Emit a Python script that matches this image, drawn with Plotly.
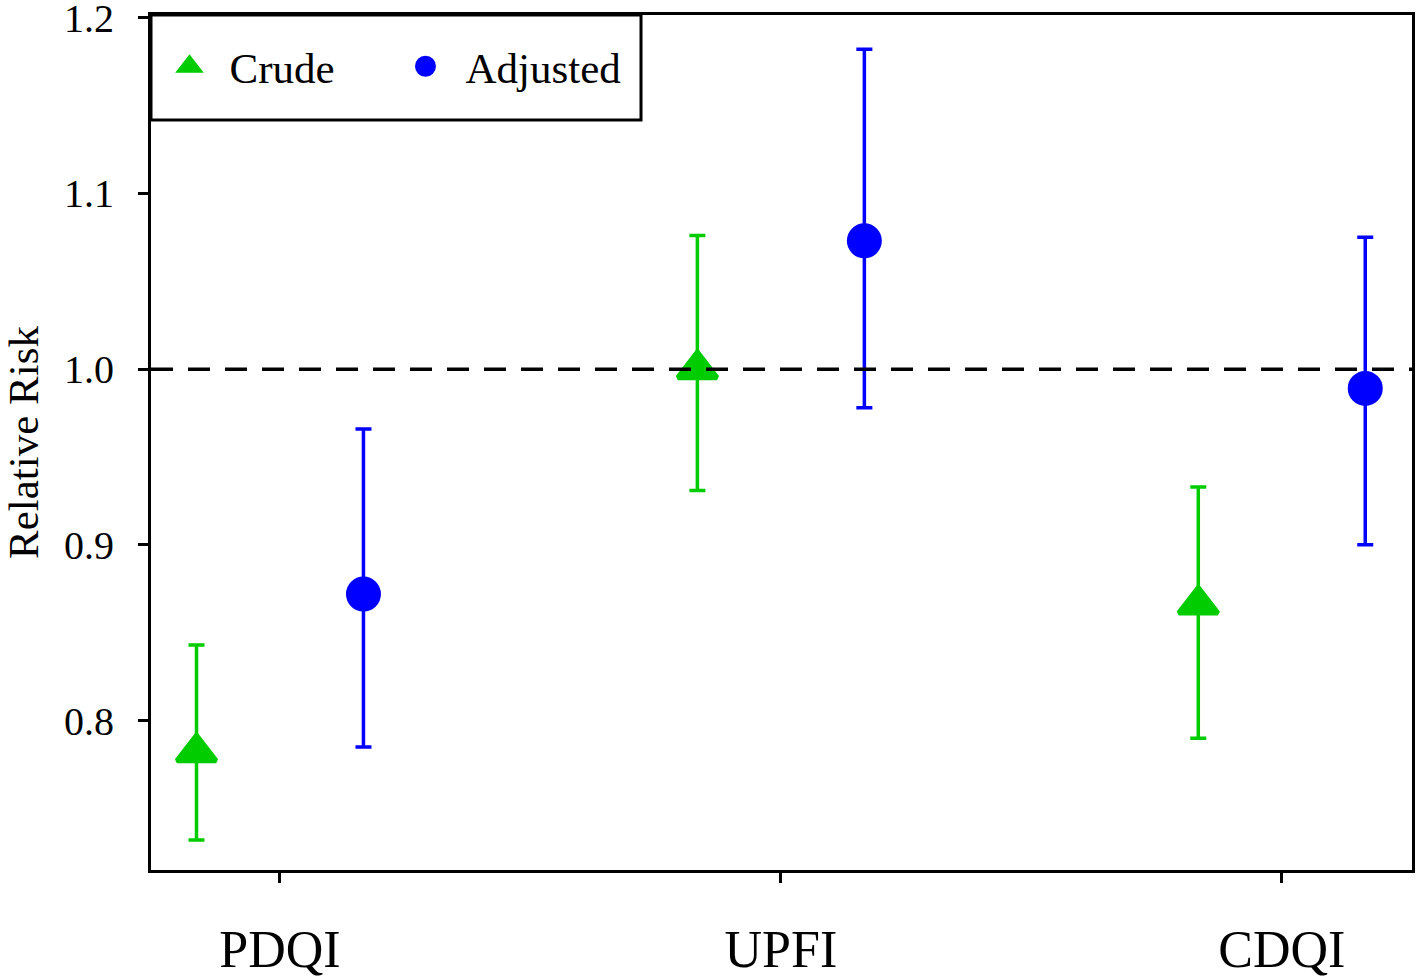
import plotly.graph_objects as go

categories = ["PDQI", "UPFI", "CDQI"]
crude_rr = [0.782, 1.000, 0.866]
crude_lo = [0.732, 0.931, 0.790]
crude_hi = [0.843, 1.076, 0.933]
adj_rr = [0.872, 1.073, 0.989]
adj_lo = [0.785, 0.978, 0.900]
adj_hi = [0.966, 1.182, 1.075]
y_ticks = [0.8, 0.9, 1.0, 1.1, 1.2]
reference_value = 1.0

GREEN = "#00CC00"
BLUE = "#0000FF"
FONT = "Liberation Serif, Times New Roman, serif"
offset = 1 / 6

idx = list(range(len(categories)))
x_crude = [i - offset for i in idx]
x_adj = [i + offset for i in idx]

fig = go.Figure()
fig.add_trace(go.Scatter(
    x=x_crude, y=crude_rr, mode="markers", name="Crude",
    marker=dict(symbol="triangle-up", size=34, color=GREEN, line=dict(color=GREEN, width=5)),
    error_y=dict(type="data", symmetric=False,
                 array=[h - v for h, v in zip(crude_hi, crude_rr)],
                 arrayminus=[v - l for v, l in zip(crude_rr, crude_lo)],
                 color=GREEN, thickness=3.5, width=8),
))
fig.add_trace(go.Scatter(
    x=x_adj, y=adj_rr, mode="markers", name="Adjusted",
    marker=dict(symbol="circle", size=30, color=BLUE, line=dict(color=BLUE, width=5)),
    error_y=dict(type="data", symmetric=False,
                 array=[h - v for h, v in zip(adj_hi, adj_rr)],
                 arrayminus=[v - l for v, l in zip(adj_rr, adj_lo)],
                 color=BLUE, thickness=3.5, width=8),
))

fig.add_hline(y=reference_value, line=dict(color="black", width=3.5, dash="22px,15px"), layer="above")

# legend box
fig.add_shape(type="rect", xref="paper", yref="paper",
              x0=0, x1=(641 - 151) / 1261, y0=(870 - 120) / 855, y1=1,
              line=dict(color="black", width=3), fillcolor="rgba(0,0,0,0)")

fig.update_layout(
    width=1418, height=980,
    margin=dict(l=151, r=6, t=15, b=110),
    paper_bgcolor="white", plot_bgcolor="white",
    font=dict(family=FONT, color="black"),
    showlegend=True,
    legend=dict(orientation="h", x=-0.0012, y=0.940, xanchor="left", yanchor="middle",
                font=dict(size=43, family=FONT), bgcolor="rgba(0,0,0,0)",
                borderwidth=0, entrywidth=151, itemwidth=70, itemsizing="trace"),
    xaxis=dict(range=[-0.2575, 2.26], tickmode="array", tickvals=idx, ticktext=categories,
               showgrid=False, zeroline=False, showline=True, linecolor="black", linewidth=3,
               mirror=True, ticks="outside", ticklen=10, tickwidth=3, tickcolor="black",
               tickfont=dict(size=52, family=FONT), ticklabelstandoff=22, automargin=False,
               ticklabeloverflow="allow"),
    yaxis=dict(range=[0.715, 1.2015], tickmode="array", tickvals=y_ticks,
               ticktext=[f"{v:.1f}" for v in y_ticks],
               showgrid=False, zeroline=False, showline=True, linecolor="black", linewidth=3,
               mirror=True, ticks="outside", ticklen=10, tickwidth=3, tickcolor="black",
               tickfont=dict(size=40, family=FONT), ticklabelstandoff=16, automargin=False,
               ticklabeloverflow="allow",
               title=dict(text="Relative Risk", font=dict(size=43, family=FONT), standoff=30)),
)

fig.write_html("out.html", config={"displayModeBar": False},
               post_script="document.body.style.margin='0';document.body.style.overflow='hidden';")
